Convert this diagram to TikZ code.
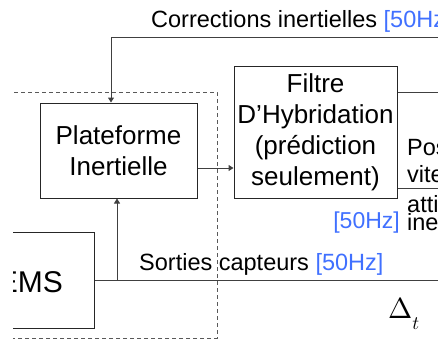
\RequirePackage{fix-cm}
\documentclass[tikz,border=0pt]{standalone}
\usepackage{fontspec}
\setmainfont{Liberation Sans}
\usepackage{tikz}
\usetikzlibrary{arrows.meta,positioning}
\definecolor{hzblue}{RGB}{64,112,255}
\newcommand{\hz}{\textcolor{hzblue}{[50Hz]}}

\begin{document}
\begin{tikzpicture}[
      x=1pt, y=-1pt,
      box/.style={draw=black!85, line width=1pt, align=center, inner sep=0pt,
                  font=\fontsize{26}{31}\selectfont},
      lbl/.style={inner sep=0pt, anchor=base west, font=\fontsize{23.5}{23.5}\selectfont},
      arr/.style={-{Triangle[length=5pt,width=6pt]}, line width=1pt, draw=black!75},
      wire/.style={line width=1pt, draw=black!75},
      frame/.style={dash pattern=on 4pt off 3pt, line width=1pt, draw=black!65}
    ]
    \useasboundingbox (0,0) rectangle (438,341);
    \clip (13,0) rectangle (438,341);

    % Blocks
    \node[box, minimum width=157pt, minimum height=95pt] (plat) at (118.5,150.5) {Plateforme\\Inertielle};
    \node[box, minimum width=163pt, minimum height=132pt] (filt) at (315.5,132) {Filtre\\D’Hybridation\\(prédiction\\seulement)};
    \node[box, minimum width=158pt, minimum height=96pt, font=\fontsize{30}{30}\selectfont] (mems) at (15,280) {};
    \node[inner sep=0pt, anchor=base east, font=\fontsize{30}{30}\selectfont] (memstxt) at (63,292) {MEMS};

    % Dashed frame
    \draw[frame] (0,92) -- (217,92) -- (217,338) -- (0,338);

    % Corrections loop
    \coordinate (corrin) at (450,37);
    \coordinate (bend) at (111,37);
    \draw[arr] (corrin) -- (bend) -- (bend |- plat.north);

    % Sensor outputs
    \coordinate (sout) at (450,280);
    \coordinate (tap) at (117,280);
    \draw[wire] (mems.east) -- (sout);
    \draw[arr] (tap) -- (tap |- plat.south);
    \draw[arr] (plat.east |- 0,168) -- (filt.west |- 0,168);

    % Filter outputs
    \coordinate (posout) at (450,92);
    \coordinate (attout) at (450,188);
    \draw[wire] (filt.east |- posout) -- (posout);
    \draw[wire] (filt.east |- attout) -- (attout);

    % Labels
    \node[lbl] (corrlbl) at (151,27) {Corrections inertielles \hz};
    \node[lbl] (sortlbl) at (139,270) {Sorties capteurs \hz};
    \node[lbl, anchor=base east, font=\fontsize{23}{23}\selectfont] (filthz) at (400,228) {\hz};
    \node[lbl] (pos) at (407,155) {Position,};
    \node[lbl] (vit) at (407,182) {vitesse,};
    \node[lbl] (att) at (407,212) {attitude};
    \node[lbl] (ine) at (407,230) {inertielle};
    \node[inner sep=0pt, anchor=base west] (dt) at (388,318)
      {\scalebox{2.9}{$\Delta$}\raisebox{-11pt}{\scalebox{1.9}{$t$}}};
  \end{tikzpicture}
\end{document}
